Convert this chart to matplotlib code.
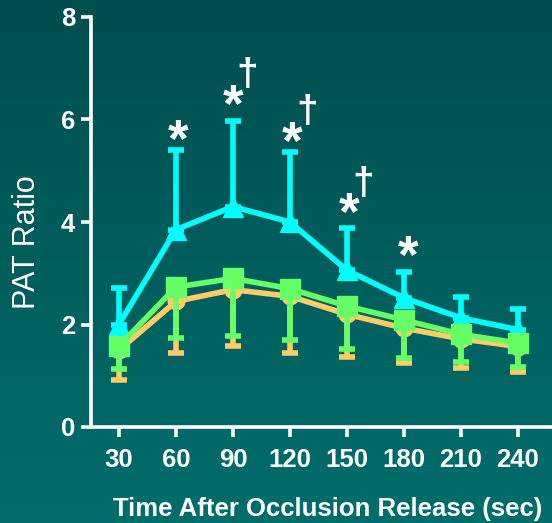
import numpy as np
import matplotlib
matplotlib.use("Agg")
import matplotlib.pyplot as plt
from matplotlib.font_manager import FontProperties
from matplotlib.textpath import TextPath

plt.rcParams['font.family'] = ['Liberation Sans', 'DejaVu Sans']

# time points (sec)
times = [30, 60, 90, 120, 150, 180, 210, 240]

# PAT ratio, three groups
cyan_mean = [2.0, 3.85, 4.3, 4.0, 3.06, 2.52, 2.13, 1.9]
cyan_sd = [0.71, 1.55, 1.67, 1.37, 0.82, 0.5, 0.41, 0.4]

green_mean = [1.58, 2.73, 2.9, 2.7, 2.36, 2.09, 1.81, 1.64]
green_sd = [0.45, 0.99, 1.12, 1.0, 0.84, 0.74, 0.54, 0.47]

orange_mean = [1.5, 2.45, 2.68, 2.55, 2.2, 1.93, 1.72, 1.57]
orange_sd = [0.58, 1.01, 1.1, 1.1, 0.83, 0.68, 0.57, 0.5]

# significance marks: (time, y)
star_marks = [(61, 5.78), (90, 6.46), (121, 5.74), (151, 4.37), (182, 3.53)]
dagger_marks = [(97.5, 6.93), (129, 6.2), (158.5, 4.8)]

W, H = 552, 523
fig = plt.figure(figsize=(W / 100, H / 100), dpi=100)

# teal gradient background
bg = fig.add_axes([0, 0, 1, 1], zorder=-10)
top = np.array([0, 78, 77]) / 255
bot = np.array([0, 110, 108]) / 255
t = np.linspace(0, 1, 256)[:, None]
grad = top[None, :] * (1 - t) + bot[None, :] * t
bg.imshow(grad[:, None, :], aspect='auto', extent=[0, 1, 0, 1])
bg.axis('off')

ax = fig.add_axes([91 / W, (H - 427) / H, (W - 91) / W, 410 / H])
ax.patch.set_alpha(0)

lw = 4
ax.errorbar(times, cyan_mean, yerr=[np.zeros(8), cyan_sd], color='#00ffff',
            marker='^', markersize=14, lw=lw, elinewidth=lw, capsize=5.5,
            capthick=lw, zorder=3)
ax.errorbar(times, orange_mean, yerr=[orange_sd, np.zeros(8)], color='#ffcc66',
            marker='o', markersize=12, lw=lw, elinewidth=lw, capsize=5.5,
            capthick=lw, zorder=4)
ax.errorbar(times, green_mean, yerr=[green_sd, np.zeros(8)], color='#66ff66',
            marker='s', markersize=14, lw=lw, elinewidth=lw, capsize=5.5,
            capthick=lw, zorder=5)


def glyph_mark(x, y, s, size):
    # put the centre of the glyph's ink (not its text box) on (x, y)
    fp = FontProperties(family='Liberation Sans', weight='bold')
    ext = TextPath((0, 0), s, size=1, prop=fp).get_extents()
    dx = -(ext.x0 + ext.x1) / 2 * size
    dy = -(ext.y0 + ext.y1) / 2 * size
    ax.annotate(s, (x, y), xytext=(dx, dy), textcoords='offset points',
                color='white', fontsize=size, fontweight='bold',
                ha='left', va='baseline')


for x, y in star_marks:
    glyph_mark(x, y, '*', 38)
for x, y in dagger_marks:
    glyph_mark(x, y, '†', 28)

ax.set_xlim(15.3, 258)
ax.set_ylim(0, 8)
ax.set_xticks(times)
ax.set_yticks([0, 2, 4, 6, 8])
for s in ['top', 'right']:
    ax.spines[s].set_visible(False)
for s in ['left', 'bottom']:
    ax.spines[s].set_color('white')
    ax.spines[s].set_linewidth(2.6)
ax.tick_params(colors='white', width=2.6, length=7, labelsize=18.5)
ax.tick_params(axis='y', pad=4.5)
ax.tick_params(axis='x', pad=8)
for lab in ax.get_xticklabels() + ax.get_yticklabels():
    lab.set_fontweight('bold')

fig.text(35 / W, 1 - 242 / H, 'PAT Ratio', color='white', fontsize=22,
         rotation=90, rotation_mode='anchor', ha='center', va='baseline')
fig.text(327.5 / W, 7 / H, 'Time After Occlusion Release (sec)',
         color='white', fontsize=18.5, fontweight='bold',
         ha='center', va='baseline')

fig.savefig('out.png', dpi=100)
